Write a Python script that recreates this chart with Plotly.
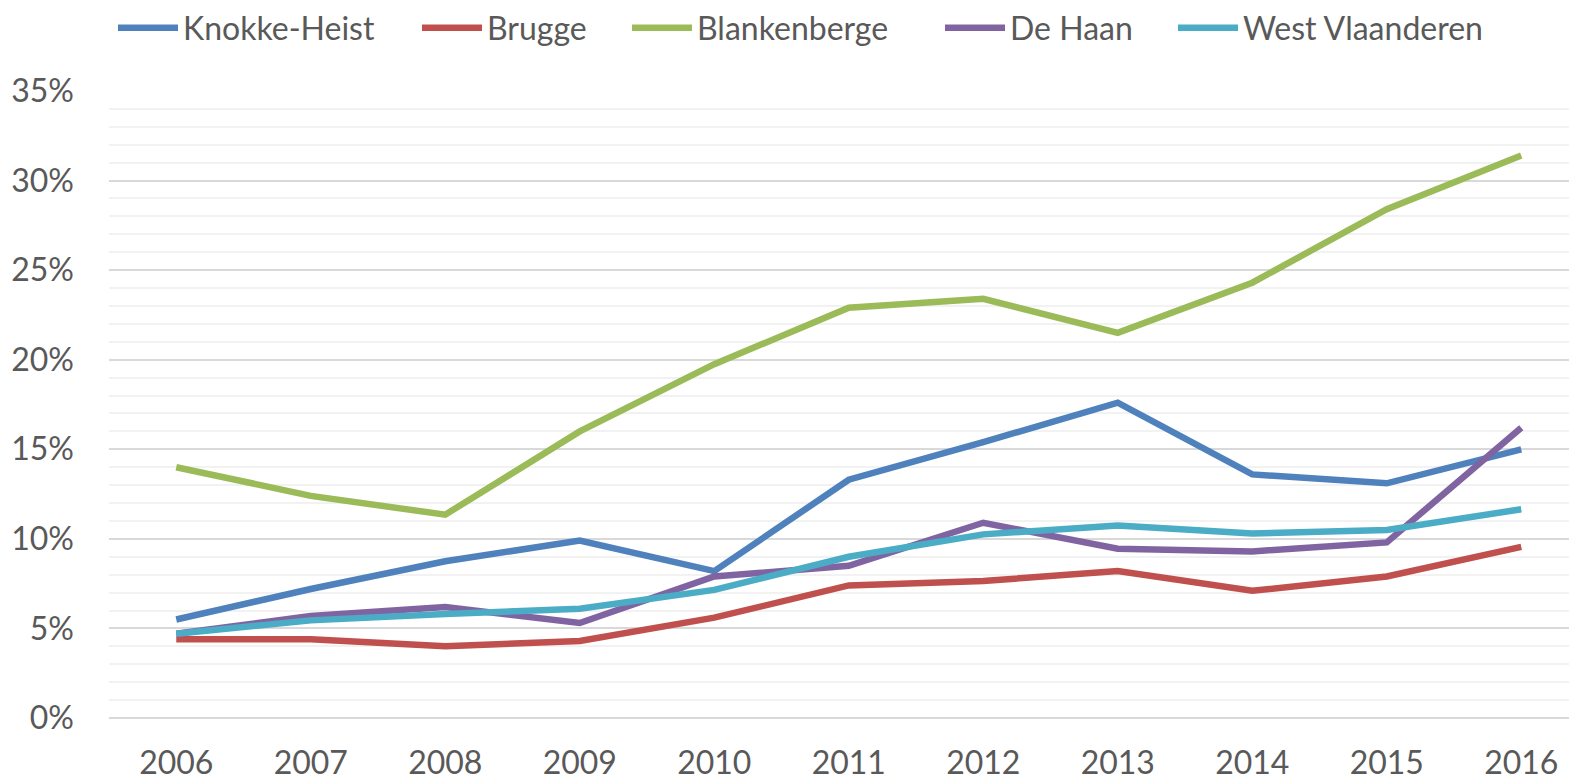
import plotly.graph_objects as go

years = [2006, 2007, 2008, 2009, 2010, 2011, 2012, 2013, 2014, 2015, 2016]

knokke_heist = [5.5, 7.2, 8.75, 9.9, 8.2, 13.3, 15.4, 17.6, 13.6, 13.1, 15.0]
brugge = [4.4, 4.4, 4.0, 4.3, 5.6, 7.4, 7.65, 8.2, 7.1, 7.9, 9.55]
blankenberge = [14.0, 12.4, 11.35, 16.0, 19.75, 22.9, 23.4, 21.5, 24.3, 28.4, 31.4]
de_haan = [4.7, 5.7, 6.2, 5.3, 7.9, 8.5, 10.9, 9.45, 9.3, 9.8, 16.2]
west_vlaanderen = [4.7, 5.45, 5.8, 6.1, 7.15, 9.0, 10.25, 10.75, 10.3, 10.5, 11.65]

series_names = ["Knokke-Heist", "Brugge", "Blankenberge", "De Haan", "West Vlaanderen"]
series_values = [knokke_heist, brugge, blankenberge, de_haan, west_vlaanderen]
colors = ["#4F81BD", "#C0504D", "#9BBB59", "#8064A2", "#4BACC6"]

y_tickvals = [0, 5, 10, 15, 20, 25, 30, 35]
y_ticktext = ["0%", "5%", "10%", "15%", "20%", "25%", "30%", "35%"]

FONT = "Lato, 'Open Sans', sans-serif"
TXT = "#595959"

W, H = 1577, 784
PAGE_OFF = 8  # default body margin of the html page
ml, mt, mb = 101, 83, 74

# legend entry start positions (image pixels) for the swatches
legend_px = [118, 422, 632, 945, 1178]
legend_keys = ["legend", "legend2", "legend3", "legend4", "legend5"]

fig = go.Figure()
for name, vals, col, lk in zip(series_names, series_values, colors, legend_keys):
    fig.add_trace(go.Scatter(
        x=years, y=vals, name=name, mode="lines",
        line=dict(color=col, width=6.5), legend=lk,
    ))

legend_layouts = {}
for lk, px in zip(legend_keys, legend_px):
    legend_layouts[lk] = dict(
        orientation="h", xref="container", yref="container",
        x=(px - PAGE_OFF - 5) / W, xanchor="left",
        y=1 - (28 - PAGE_OFF) / H, yanchor="middle",
        font=dict(family=FONT, size=32, color=TXT),
        itemwidth=60, bgcolor="rgba(0,0,0,0)",
    )

fig.update_layout(
    width=W, height=H,
    margin=dict(l=ml, r=0, t=mt, b=mb, autoexpand=False),
    paper_bgcolor="white", plot_bgcolor="white",
    font=dict(family=FONT, size=32, color=TXT),
    showlegend=True,
    **legend_layouts,
    xaxis=dict(
        range=[2005.5, 2016.474], automargin=False,
        tickvals=years, ticktext=[str(y) for y in years],
        showgrid=False, zeroline=False, showline=False,
        ticks="", ticklabelstandoff=23,
        tickfont=dict(family=FONT, size=32, color=TXT),
    ),
    yaxis=dict(
        range=[0, 35], automargin=False,
        tickvals=y_tickvals, ticktext=y_ticktext,
        showgrid=True, gridcolor="#D9D9D9", gridwidth=1.5,
        zeroline=True, zerolinecolor="#D9D9D9", zerolinewidth=1.5,
        showline=False, ticks="", ticklabelstandoff=34,
        tickfont=dict(family=FONT, size=32, color=TXT),
        minor=dict(dtick=1, showgrid=True, gridcolor="#F2F2F2", gridwidth=1.5),
    ),
)

fig.write_html("out.html")
